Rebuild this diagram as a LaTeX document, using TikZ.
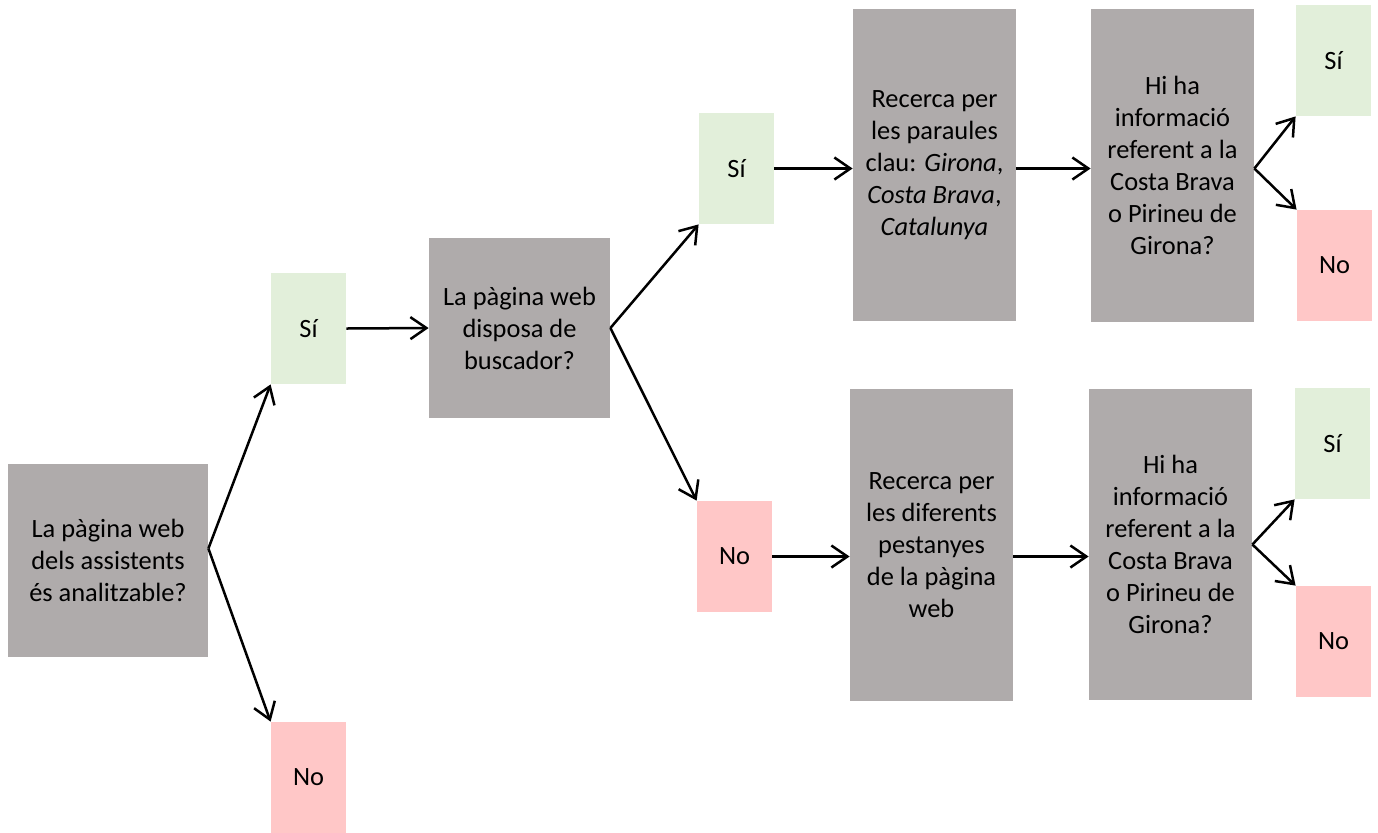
\documentclass[tikz,border=0pt]{standalone}
\usepackage{fontspec}
\setmainfont{Carlito}
\usetikzlibrary{arrows.meta}
\definecolor{boxgrey}{HTML}{AFABAB}
\definecolor{yesgreen}{HTML}{E2EFDA}
\definecolor{nopink}{HTML}{FFC7C7}
\begin{document}
\begin{tikzpicture}[x=0.5pt,y=-0.5pt,
  every node/.style={inner sep=0pt, align=center, font=\fontsize{13.2pt}{16pt}\selectfont},
  qbox/.style={fill=boxgrey},
  yesbox/.style={fill=yesgreen, minimum width=37.5pt, minimum height=55.5pt},
  nobox/.style={fill=nopink, minimum width=37.5pt, minimum height=55.5pt},
  conn/.style={draw=black, line width=1.25pt, -{Straight Barb[length=8pt,width=11pt,line width=1.25pt]}}]
\useasboundingbox (0,0) rectangle (1378,832);
\node[qbox, minimum width=100pt, minimum height=96.5pt] (root) at (108,560.5) {La pàgina web\\dels assistents\\és analitzable?};
\node[yesbox] (si1) at (308.5,328.5) {Sí};
\node[nobox] (no1) at (308.5,777.5) {No};
\node[qbox, minimum width=90.5pt, minimum height=90pt] (busc) at (519.5,328) {La pàgina web\\disposa de\\buscador?};
\node[yesbox] (si2) at (736.5,168.5) {Sí};
\node[nobox] (no2) at (734.5,556.5) {No};
\node[qbox, minimum width=81.5pt, minimum height=156pt] (rec1) at (934.5,165) {Recerca per\\les paraules\\clau: \textit{Girona},\\\textit{Costa Brava},\\\textit{Catalunya}};
\node[qbox, minimum width=81.5pt, minimum height=156.5pt] (hi1) at (1172.5,165.5) {Hi ha\\informació\\referent a la\\Costa Brava\\o Pirineu de\\Girona?};
\node[yesbox] (si3) at (1333.5,60.5) {Sí};
\node[nobox] (no3) at (1334.5,265.5) {No};
\node[qbox, minimum width=81.5pt, minimum height=156pt] (rec2) at (931.5,545) {Recerca per\\les diferents\\pestanyes\\de la pàgina\\web};
\node[qbox, minimum width=81.5pt, minimum height=155.5pt] (hi2) at (1170.5,544.5) {Hi ha\\informació\\referent a la\\Costa Brava\\o Pirineu de\\Girona?};
\node[yesbox] (si4) at (1332.5,443.5) {Sí};
\node[nobox] (no4) at (1333.5,641.5) {No};
\coordinate (rootout) at ([yshift=6pt]root.east);
\draw[conn] (rootout) -- (si1.south west);
\draw[conn] (rootout) -- (no1.north west);
\draw[conn] (si1.east) -- (busc.west);
\draw[conn] (busc.east) -- (si2.south west);
\draw[conn] (busc.east) -- (no2.north west);
\draw[conn] (si2.east) -- (rec1.west |- si2.east);
\draw[conn] (rec1.east |- si2.east) -- (hi1.west |- si2.east);
\draw[conn] (hi1.east |- si2.east) -- (si3.south west);
\draw[conn] (hi1.east |- si2.east) -- (no3.north west);
\draw[conn] (no2.east) -- (rec2.west |- no2.east);
\draw[conn] (rec2.east |- no2.east) -- (hi2.west |- no2.east);
\draw[conn] (hi2.east) -- (si4.south west);
\draw[conn] (hi2.east) -- (no4.north west);
\end{tikzpicture}
\end{document}
